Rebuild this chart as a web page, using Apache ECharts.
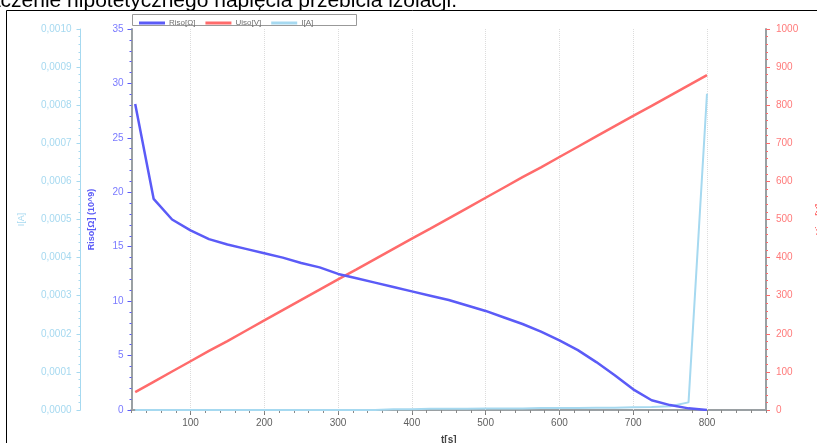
<!DOCTYPE html>
<html>
<head>
<meta charset="utf-8">
<script src="https://cdn.jsdelivr.net/npm/echarts@6/dist/echarts.min.js"></script>
<style>
html, body { margin: 0; padding: 0; background: #fff; }
#chart { width: 817px; height: 443px; }
</style>
</head>
<body>
<div id="chart"></div>
<script>
// czas pomiaru [s]
var czas = [25, 50, 75, 100, 125, 150, 175, 200, 225, 250, 275, 300, 325, 350, 375, 400,
            425, 450, 475, 500, 525, 550, 575, 600, 625, 650, 675, 700, 725, 750, 775, 800];
// rezystancja izolacji [Ohm * 10^9]
var riso = [28.1, 19.4, 17.5, 16.5, 15.7, 15.2, 14.8, 14.4, 14.0, 13.5, 13.1, 12.5, 12.1, 11.7, 11.3, 10.9,
            10.5, 10.1, 9.6, 9.1, 8.5, 7.9, 7.2, 6.4, 5.5, 4.4, 3.2, 1.9, 0.9, 0.45, 0.15, 0.0];
// napiecie probiercze [V]
var uiso = [47, 74, 101, 128, 155, 181, 208, 235, 262, 289, 316, 343, 369, 396, 423, 450,
            476, 503, 530, 557, 584, 611, 637, 664, 691, 718, 745, 772, 798, 825, 852, 879];
// prad uplywu [A]
var prad = [0, 0, 0, 0, 0, 0, 0, 0, 0, 0, 0, 0, 0, 0, 0.000002, 0.000002,
            0.000003, 0.000003, 0.000003, 0.000004, 0.000004, 0.000004, 0.000005, 0.000005, 0.000005, 0.000006, 0.000006, 0.000007, 0.000008, 0.00001, 0.00002, 0.00083];
var etykietyX = [100, 200, 300, 400, 500, 600, 700, 800];

var kolorR = '#5b5bf7', kolorU = '#ff6b6b', kolorI = '#a6d9f0';
var font = 'Liberation Sans, Arial, sans-serif';

function pary(xs, ys) {
    var out = [];
    for (var i = 0; i < xs.length; i++) out.push([xs[i], ys[i]]);
    return out;
}

// pionowe linie siatki w punktach glownych osi t
var siatka = [];
for (var k = 0; k < etykietyX.length; k++) siatka.push({ xAxis: etykietyX[k] });

var chart = echarts.init(document.getElementById('chart'));
var option = {
    animation: false,
    textStyle: { fontFamily: font },
    grid: { left: 131.5, right: 51, top: 29, bottom: 33, outerBoundsMode: 'none', containLabel: false },
    graphic: [
        { type: 'rect', shape: { x: 6.5, y: 10.5, width: 900, height: 500 }, style: { fill: null, stroke: '#000', lineWidth: 1 }, silent: true },
        { type: 'text', x: 457, y: 11.5, style: { text: 'Wyznaczenie hipotetycznego napięcia przebicia izolacji.', font: '21px Liberation Sans', fill: '#000', align: 'right', verticalAlign: 'bottom' } },
        { type: 'rect', shape: { x: 132.5, y: 14.5, width: 224, height: 11 }, style: { fill: '#fff', stroke: '#999', lineWidth: 1 }, z: 5 }
    ],
    legend: {
        left: 134, top: 14, z: 10,
        itemWidth: 26, itemHeight: 3, itemGap: 10,
        icon: 'rect',
        textStyle: { fontSize: 8, color: '#6f6f6f', padding: [0, 0, 0, -1] },
        data: ['Riso[Ω]', 'Uiso[V]', 'I[A]']
    },
    xAxis: [
        {
            type: 'value', min: 20, max: 880, position: 'bottom',
            name: 't[s]', nameLocation: 'middle', nameGap: 25,
            nameTextStyle: { fontSize: 10, fontWeight: 'bold', color: '#444' },
            axisLine: { lineStyle: { color: '#9aa0a3', width: 2 } },
            axisTick: { customValues: etykietyX, length: 5, lineStyle: { color: '#777' } },
            axisLabel: { customValues: etykietyX, fontSize: 10, color: '#5f5f5f', margin: 8 },
            splitLine: { show: false }
        },
        {
            type: 'value', min: 20, max: 880, interval: 20, position: 'bottom',
            axisLine: { show: false },
            axisTick: { length: 3, lineStyle: { color: '#888' } },
            axisLabel: { show: false },
            splitLine: { show: false }
        },
        {
            type: 'value', min: 20, max: 880, interval: 20, position: 'top',
            axisLine: { lineStyle: { color: '#9aa0a3', width: 2 } },
            axisTick: { inside: true, length: 3, lineStyle: { color: '#888' } },
            axisLabel: { show: false },
            splitLine: { show: false }
        }
    ],
    yAxis: [
        {
            type: 'value', min: 0, max: 35, interval: 5, position: 'left',
            name: 'Riso[Ω] (10^9)', nameLocation: 'middle', nameGap: 35,
            nameTextStyle: { fontSize: 9, fontWeight: 'bold', color: kolorR },
            axisLine: { show: true, lineStyle: { color: '#9aa0a3', width: 2 } },
            axisTick: { show: true, length: 4, lineStyle: { color: kolorR } },
            minorTick: { show: true, splitNumber: 5, length: 2, lineStyle: { color: kolorR } },
            axisLabel: { fontSize: 10, color: '#7a7aff', margin: 8 },
            splitLine: { show: false }
        },
        {
            type: 'value', min: 0, max: 0.001, interval: 0.0001, position: 'left', offset: 51,
            name: 'I[A]', nameLocation: 'middle', nameGap: 54,
            nameTextStyle: { fontSize: 9, color: kolorI },
            axisLine: { show: true, lineStyle: { color: kolorI, width: 1 } },
            axisTick: { show: true, length: 4, lineStyle: { color: kolorI } },
            minorTick: { show: true, splitNumber: 5, length: 2, lineStyle: { color: kolorI } },
            axisLabel: {
                fontSize: 10, color: kolorI, margin: 9,
                formatter: function (v) { return v.toFixed(4).replace('.', ','); }
            },
            splitLine: { show: false }
        },
        {
            type: 'value', min: 0, max: 1000, interval: 100, position: 'right',
            name: 'Uiso[V]', nameLocation: 'middle', nameGap: 49,
            nameTextStyle: { fontSize: 9, fontWeight: 'bold', color: kolorU },
            axisLine: { show: true, lineStyle: { color: '#9aa0a3', width: 2 } },
            axisTick: { show: true, length: 4, lineStyle: { color: kolorU } },
            minorTick: { show: true, splitNumber: 5, length: 2, lineStyle: { color: kolorU } },
            axisLabel: { fontSize: 10, color: '#ff7a7a', margin: 10, formatter: function (v) { return String(v); } },
            splitLine: { show: false }
        }
    ],
    series: [
        {
            name: 'Riso[Ω]', type: 'line', xAxisIndex: 0, yAxisIndex: 0,
            data: pary(czas, riso), showSymbol: false, color: kolorR,
            lineStyle: { width: 2.5, color: kolorR }, z: 4,
            markLine: {
                silent: true, symbol: 'none', label: { show: false }, z: 1,
                lineStyle: { color: '#dcdcdc', type: 'dotted', width: 1 },
                data: siatka
            }
        },
        {
            name: 'Uiso[V]', type: 'line', xAxisIndex: 0, yAxisIndex: 2,
            data: pary(czas, uiso), showSymbol: false, color: kolorU,
            lineStyle: { width: 2.5, color: kolorU }, z: 3
        },
        {
            name: 'I[A]', type: 'line', xAxisIndex: 0, yAxisIndex: 1,
            data: pary(czas, prad), showSymbol: false, color: kolorI,
            lineStyle: { width: 2, color: kolorI }, z: 2
        }
    ]
};
chart.setOption(option);
</script>
</body>
</html>
